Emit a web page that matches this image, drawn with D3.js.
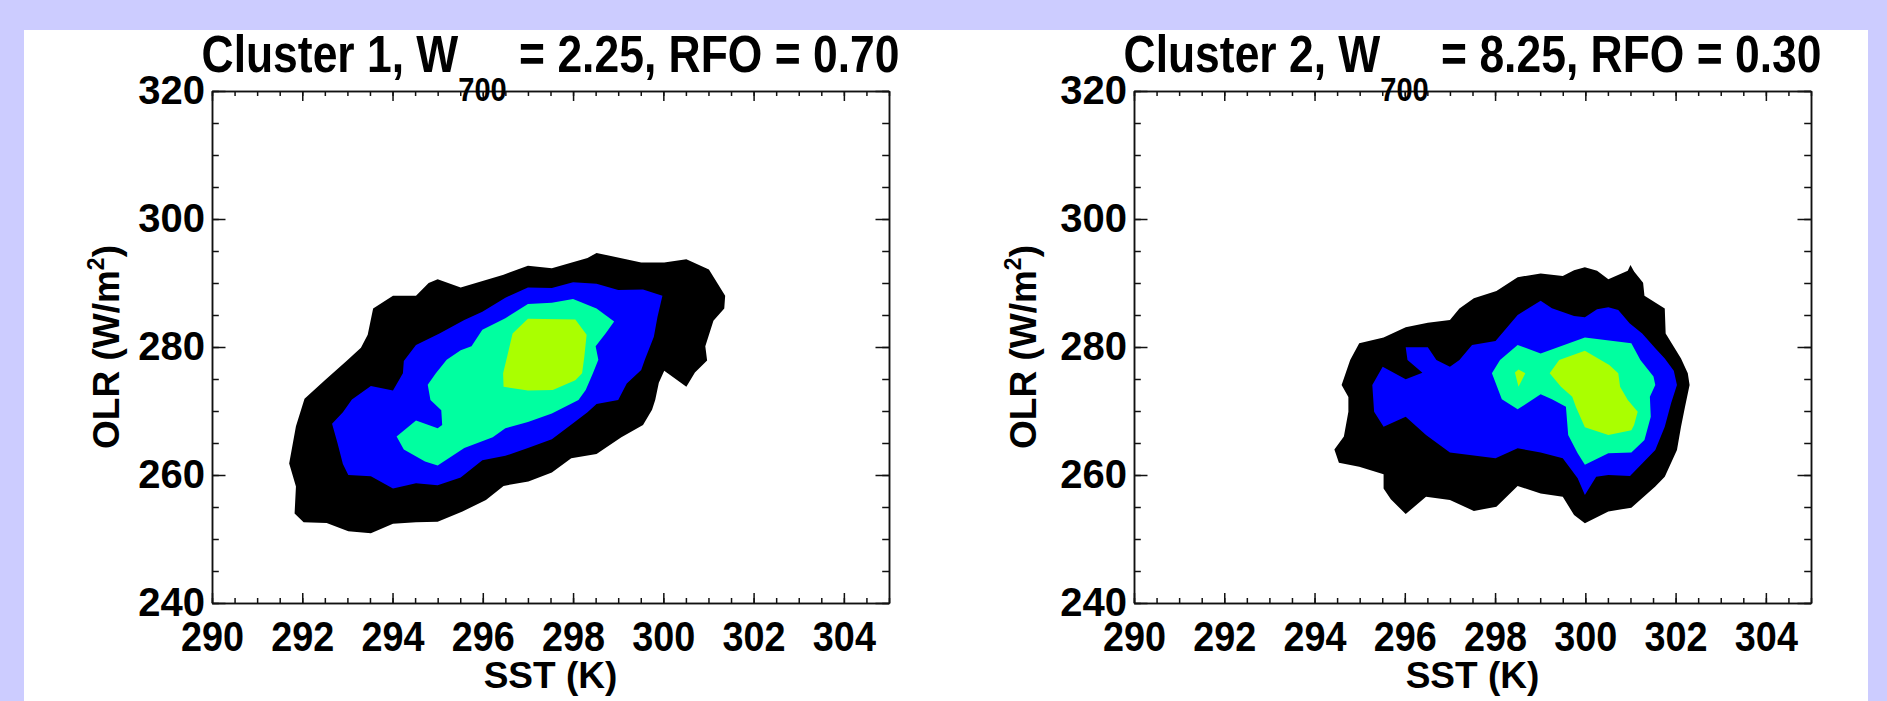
<!DOCTYPE html>
<html>
<head>
<meta charset="utf-8">
<script src="https://cdn.jsdelivr.net/npm/d3@7"></script>
<style>
  body { margin: 0; background: #ccccff; }
  svg text { font-family: "Liberation Sans", Arial, Helvetica, sans-serif; font-weight: bold; fill: #000; }
</style>
</head>
<body>
<svg id="chart" width="1887" height="701"></svg>
<script>
// axis ticks
const sstTicks = [290, 292, 294, 296, 298, 300, 302, 304];
const olrTicks = [240, 260, 280, 300, 320];
const sstDomain = [290, 305];
const olrDomain = [240, 320];

// panel titles
const clusterNames = ['Cluster 1', 'Cluster 2'];
const w700Values = ['2.25', '8.25'];
const rfoValues = ['0.70', '0.30'];

// contour fill colours, lowest level first
const levelColors = ['#000000', '#0000ff', '#00ffa0', '#aaff00'];

// contour outlines, [SST (K), OLR (W/m2)]
const cluster1Black = [
  [293.57, 286.0], [294.01, 288.0], [294.52, 288.0], [294.8, 290.0], [295.0, 290.6], [295.51, 289.3],
  [296.46, 291.3], [297.0, 292.7], [297.53, 292.3], [298.32, 293.9], [298.52, 294.7], [299.51, 293.2],
  [300.02, 293.2], [300.51, 293.7], [301.01, 292.1], [301.37, 288.0], [301.35, 286.0], [301.11, 284.1],
  [300.93, 280.1], [300.97, 277.9], [300.7, 276.0], [300.51, 273.8], [300.02, 276.3], [299.9, 274.4],
  [299.82, 271.7], [299.75, 270.2], [299.55, 267.8], [299.07, 265.9], [298.52, 263.3], [297.96, 262.6],
  [297.53, 260.4], [297.01, 259.0], [296.46, 258.3], [296.07, 256.1], [295.55, 254.3], [295.0, 252.7],
  [294.52, 252.6], [294.01, 252.4], [293.52, 250.9], [293.02, 251.2], [292.54, 252.5], [292.03, 252.6],
  [291.83, 254.0], [291.86, 258.2], [291.71, 261.8], [291.86, 267.6], [292.05, 271.9], [292.5, 274.8],
  [292.98, 277.8], [293.3, 279.9], [293.45, 281.9]
];
const cluster1Blue = [
  [299.98, 288.0], [299.55, 289.0], [299.0, 288.9], [298.52, 289.9], [298.0, 290.1], [297.53, 289.2],
  [297.0, 289.3], [296.5, 287.7], [295.99, 285.5], [295.59, 284.2], [295.04, 282.1], [294.52, 280.3],
  [294.25, 277.8], [294.23, 275.9], [294.01, 273.2], [293.52, 273.9], [293.1, 271.8], [292.9, 269.8],
  [292.66, 268.0], [292.78, 265.0], [292.9, 261.7], [293.02, 260.0], [293.52, 259.8], [294.01, 257.9],
  [294.52, 258.7], [295.0, 258.4], [295.51, 259.6], [295.99, 262.3], [296.5, 263.0], [297.0, 264.2],
  [297.53, 265.6], [298.0, 268.1], [298.32, 269.8], [298.52, 271.1], [299.0, 271.7], [299.19, 274.3],
  [299.51, 276.4], [299.59, 278.0], [299.79, 281.6], [299.87, 284.7]
];
const cluster1Green = [
  [298.0, 287.5], [297.53, 286.9], [297.0, 286.7], [296.5, 284.5], [295.99, 282.7], [295.75, 280.1],
  [295.51, 279.5], [295.2, 278.0], [294.96, 275.9], [294.78, 274.1], [294.84, 271.7], [295.08, 270.1],
  [295.1, 267.8], [295.0, 267.3], [294.52, 268.5], [294.09, 266.0], [294.25, 264.0], [294.72, 262.1],
  [295.0, 261.5], [295.59, 264.2], [296.22, 265.9], [296.5, 267.3], [297.0, 268.3], [297.53, 269.6],
  [298.12, 271.7], [298.28, 273.3], [298.44, 275.9], [298.56, 278.0], [298.5, 280.1], [298.72, 282.1],
  [298.91, 284.0], [298.52, 286.0]
];
const cluster1Yellow = [
  [297.0, 284.4], [298.05, 284.3], [298.3, 281.9], [298.25, 278.5], [298.2, 275.9], [298.05, 274.8],
  [297.55, 273.3], [297.0, 273.2], [296.46, 273.8], [296.45, 275.9], [296.54, 278.5], [296.66, 282.1]
];

const cluster2Black = [
  [294.99, 280.6], [295.53, 281.5], [296.02, 283.1], [296.51, 283.8], [297.0, 284.2], [297.21, 286.0],
  [297.53, 287.6], [298.03, 288.75], [298.5, 290.9], [299.01, 291.5], [299.5, 291.1], [299.75, 292.0],
  [299.99, 292.45], [300.26, 291.9], [300.51, 290.6], [300.94, 291.9], [301.0, 292.8], [301.08, 291.8],
  [301.28, 290.05], [301.31, 288.0], [301.76, 286.0], [301.78, 282.1], [302.12, 278.2], [302.27, 275.9],
  [302.31, 274.06], [302.21, 270.7], [302.12, 267.55], [302.03, 263.9], [301.76, 259.74], [301.55, 258.2],
  [301.02, 254.9], [300.51, 254.3], [299.99, 252.45], [299.75, 253.75], [299.5, 256.6], [299.01, 257.1],
  [298.5, 258.3], [298.03, 255.05], [297.53, 254.38], [297.0, 256.1], [296.47, 256.6], [296.02, 253.9],
  [295.69, 256.2], [295.53, 257.9], [295.53, 260.1], [294.99, 261.3], [294.54, 261.93], [294.44, 264.0],
  [294.65, 266.0], [294.75, 269.9], [294.75, 272.2], [294.6, 274.06], [294.79, 277.97]
];
const cluster2Blue = [
  [296.02, 279.95], [296.51, 279.95], [296.7, 277.97], [297.0, 276.93], [297.21, 277.97], [297.49, 280.31],
  [298.01, 280.94], [298.5, 285.0], [299.01, 287.24], [299.26, 286.04], [299.75, 284.84], [299.99, 284.63],
  [300.26, 285.88], [300.51, 286.2], [300.73, 285.78], [300.98, 283.7], [301.26, 282.1], [301.55, 279.8],
  [301.76, 278.2], [301.96, 276.3], [302.03, 274.06], [301.9, 271.2], [301.76, 267.55], [301.55, 263.9],
  [301.26, 261.8], [300.99, 259.85], [300.51, 260.0], [300.24, 259.74], [299.99, 256.88], [299.83, 259.48],
  [299.5, 262.6], [299.01, 263.5], [298.5, 264.17], [298.01, 262.6], [297.0, 263.5], [296.47, 266.25],
  [296.02, 269.1], [295.53, 267.55], [295.32, 269.9], [295.28, 274.06], [295.51, 276.93], [296.02, 274.95],
  [296.39, 275.99], [296.06, 277.97]
];
const cluster2Green = [
  [298.5, 280.31], [299.01, 279.0], [299.99, 281.5], [301.02, 280.57], [301.22, 277.97], [301.51, 275.4],
  [301.55, 274.06], [301.43, 272.24], [301.45, 269.1], [301.31, 265.47], [301.02, 263.5], [300.51, 263.4],
  [299.99, 261.6], [299.83, 263.4], [299.62, 266.25], [299.57, 270.68], [299.26, 271.82], [299.01, 272.6],
  [298.5, 270.26], [298.15, 271.82], [297.93, 275.9], [298.11, 277.97]
];
const cluster2Yellow = [
  [299.99, 279.43], [300.53, 277.19], [300.73, 275.9], [300.77, 273.8], [300.94, 271.72], [301.16, 269.9],
  [301.08, 267.8], [301.02, 267.0], [300.51, 266.25], [299.99, 267.45], [299.79, 270.68], [299.71, 272.24],
  [299.46, 273.8], [299.21, 275.9], [299.42, 277.97]
];
const cluster2YellowSpot = [
  [298.44, 276.0], [298.52, 276.5], [298.67, 275.9], [298.52, 273.8]
];

const panelRings = [
  [[cluster1Black], [cluster1Blue], [cluster1Green], [cluster1Yellow]],
  [[cluster2Black], [cluster2Blue], [cluster2Green], [cluster2Yellow, cluster2YellowSpot]]
];

const svg = d3.select('#chart');
svg.append('rect').attr('x', 24).attr('y', 30).attr('width', 1844).attr('height', 671).attr('fill', '#fff');

const plotW = 677, plotH = 512, plotTop = 91;
const panelLefts = [212, 1134];
const yLabelOffsets = [-93, -98];
const titleWidth = 698;

panelRings.forEach((levels, k) => {
  const g = svg.append('g').attr('transform', `translate(${panelLefts[k]},${plotTop})`);
  const x = d3.scaleLinear().domain(sstDomain).range([0, plotW]);
  const y = d3.scaleLinear().domain(olrDomain).range([plotH, 0]);

  // filled contour levels, painted from the outermost in
  const ring = d3.line()
    .x(d => x(d[0]))
    .y(d => y(d[1]))
    .curve(d3.curveLinearClosed);
  levels.forEach((rings, i) => {
    g.append('g').selectAll('path')
      .data(rings)
      .enter()
      .append('path')
      .attr('d', ring)
      .attr('fill', levelColors[i]);
  });

  // axes, ticks pointing inwards on all four sides
  const minorX = d3.range(sstDomain[0], sstDomain[1] + 0.001, 0.5);
  const minorY = d3.range(olrDomain[0], olrDomain[1] + 0.001, 5);
  const axes = [
    [d3.axisBottom(x).tickValues(minorX).tickSize(-5), `translate(0,${plotH})`],
    [d3.axisTop(x).tickValues(minorX).tickSize(-5), null],
    [d3.axisLeft(y).tickValues(minorY).tickSize(-6.8), null],
    [d3.axisRight(y).tickValues(minorY).tickSize(-6.8), `translate(${plotW},0)`],
    [d3.axisTop(x).tickValues(sstTicks).tickSize(-10), null],
    [d3.axisRight(y).tickValues(olrTicks).tickSize(-13.5), `translate(${plotW},0)`]
  ];
  axes.forEach(([ax, tr]) => {
    const a = g.append('g').call(ax.tickSizeOuter(0).tickFormat(''));
    if (tr) a.attr('transform', tr);
  });

  const xAxis = g.append('g')
    .attr('transform', `translate(0,${plotH})`)
    .call(d3.axisBottom(x).tickValues(sstTicks).tickSize(-10).tickSizeOuter(0).tickPadding(18));
  const yAxis = g.append('g')
    .call(d3.axisLeft(y).tickValues(olrTicks).tickSize(-13.5).tickSizeOuter(0).tickPadding(7));

  g.selectAll('.domain, .tick line').attr('stroke', '#111').attr('stroke-width', 1.5);
  [xAxis, yAxis].forEach(a => a.attr('font-size', null).attr('font-family', null));
  xAxis.selectAll('text').style('font-size', '42px').attr('transform', 'scale(0.9,1)');
  yAxis.selectAll('text').style('font-size', '40px');

  // axis titles
  g.append('text')
    .attr('x', plotW / 2).attr('y', 597)
    .attr('text-anchor', 'middle')
    .style('font-size', '37px')
    .text('SST (K)');

  const yl = g.append('text')
    .attr('transform', `translate(${yLabelOffsets[k]},${plotH / 2}) rotate(-90)`)
    .attr('text-anchor', 'middle')
    .style('font-size', '37px');
  yl.append('tspan').text('OLR (W/m');
  yl.append('tspan').attr('dy', -15).style('font-size', '23px').text('2');
  yl.append('tspan').attr('dy', 15).text(')');

  // title with subscript
  const t = g.append('text')
    .attr('text-anchor', 'middle')
    .style('font-size', '52px');
  t.append('tspan').text(`${clusterNames[k]}, W`);
  t.append('tspan').attr('dy', 29).style('font-size', '34px').text('700');
  t.append('tspan').attr('dy', -29).text(` = ${w700Values[k]}, RFO = ${rfoValues[k]}`);
  const tw = t.node().getBBox().width;
  t.attr('transform', `translate(${plotW / 2},-19) scale(${titleWidth / tw},1)`);
});
</script>
</body>
</html>
